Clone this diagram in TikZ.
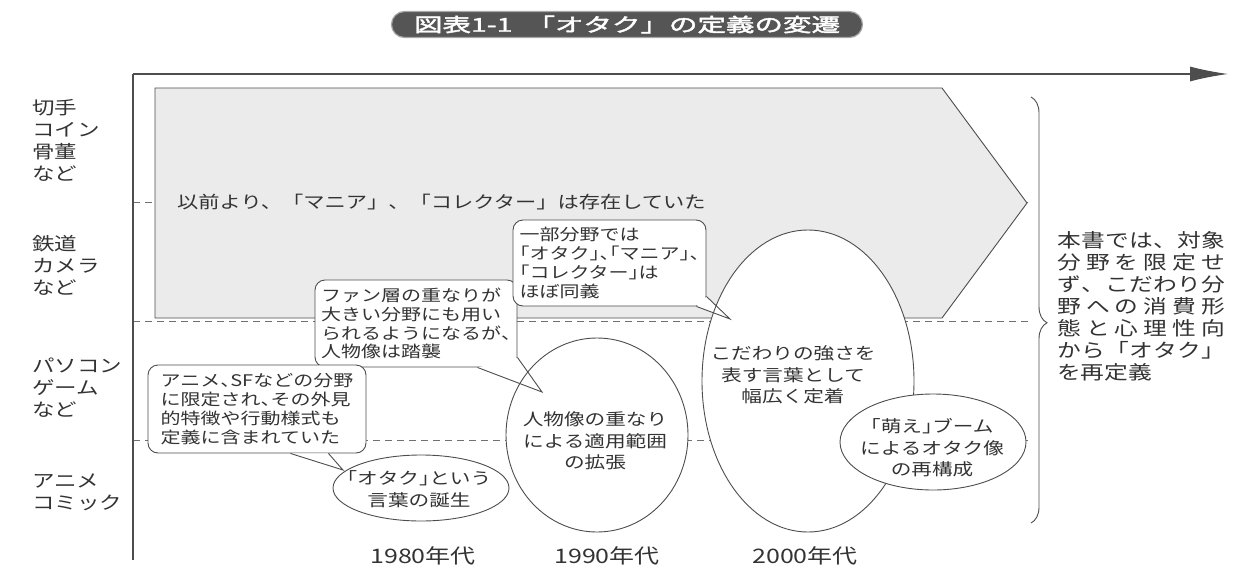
\documentclass[tikz,border=0pt]{standalone}
\usepackage{fontspec}
\setmainfont{Noto Sans CJK JP}[FakeStretch=1.25]
\newfontfamily\titlefont{Noto Sans CJK JP}[FakeStretch=1.5,FakeBold=2.2]
\newcommand\hw[1]{{\addfontfeature{RawFeature=+halt}#1}}
\newcommand\rl[1]{\hbox to 168pt{#1}}
\usetikzlibrary{arrows.meta,shapes.geometric,decorations.pathreplacing,calc}
\definecolor{ink}{HTML}{333333}
\definecolor{linec}{HTML}{4D4D4D}
\definecolor{pentfill}{HTML}{EBEBEB}
\definecolor{pillfill}{HTML}{555555}
\begin{document}
\begin{tikzpicture}[x=1pt,y=-1pt,
  every node/.style={text=ink, inner sep=0pt},
  lab/.style={align=left, anchor=west, font=\fontsize{18pt}{22pt}\selectfont},
  bubble/.style={draw=linec, fill=white, rounded corners=10pt, line width=0.9pt, align=left, font=\fontsize{16pt}{18.8pt}\selectfont},
  ell/.style={ellipse, draw=linec, fill=white, line width=0.9pt},
  etext/.style={align=center, font=\fontsize{16.5pt}{21.5pt}\selectfont},
  tail/.style={draw=linec, line width=0.9pt, line join=miter},
  gridline/.style={draw=linec!80, dash pattern=on 7pt off 5pt, line width=0.7pt},
  axisline/.style={draw=linec, line width=1.1pt},
  year/.style={font=\fontsize{20pt}{22pt}\selectfont}
]
\useasboundingbox (0,0) rectangle (1255,581);

% dashed guide lines
\coordinate (g1a) at (133,202); \coordinate (g1b) at (1030,202);
\coordinate (g2a) at (133,321); \coordinate (g2b) at (1030,321);
\coordinate (g3a) at (133,440); \coordinate (g3b) at (1030,440);
\draw[gridline] (g1a) -- (g1b);
\draw[gridline] (g2a) -- (g2b);
\draw[gridline] (g3a) -- (g3b);

% big arrow band
\draw[draw=linec, fill=pentfill, line width=0.9pt]
  (155,88) -- (942,88) -- (1027,203) -- (942,318) -- (155,318) -- cycle;
\node[anchor=west, font=\fontsize{17pt}{20pt}\selectfont] (past) at (177,202)
  {以前より、「マニア」、「コレクター」は存在していた};

% axes
\coordinate (O) at (133,74);
\coordinate (X) at (1228,74);
\coordinate (Y) at (133,560);
\draw[axisline, -{Latex[length=38pt,width=15pt]}] (O) -- (X);
\draw[axisline] (O) -- (Y);

% left labels
\node[lab] (l1) at (32,140) {切手\\コイン\\骨董\\など};
\node[lab] (l2) at (32,265) {鉄道\\カメラ\\など};
\node[lab] (l3) at (32,388) {パソコン\\ゲーム\\など};
\node[lab] (l4) at (32,492) {アニメ\\コミック};

% speech bubbles
\node[bubble, minimum width=202pt, minimum height=87pt] (b1) at (416,323.5)
  {ファン層の重なりが\\大きい分野にも用い\\られるようになるが\hw{、}\\人物像は踏襲};
\node[bubble, minimum width=193pt, minimum height=86pt] (b2) at (609.5,263)
  {一部分野では\\\hw{「}オタク\hw{」、「}マニア\hw{」、}\\\hw{「}コレクター\hw{」}は\\ほぼ同義};
\node[bubble, minimum width=218pt, minimum height=88pt] (b3) at (257,409)
  {アニメ\hw{、}SFなどの分野\\に限定され\hw{、}その外見\\的特徴や行動様式も\\定義に含まれていた};

% tail points
\coordinate (t1) at (542,392);
\coordinate (t1a) at ($(b1.south east)+(-40,0)$);
\coordinate (t1b) at ($(b1.south east)+(0,-10)$);
\coordinate (t2) at (730,319);
\coordinate (t2a) at ($(b2.south east)+(-10,0)$);
\coordinate (t2b) at ($(b2.south east)+(0,-10)$);
\coordinate (t3) at (343,470);
\coordinate (t3a) at ($(b3.south east)+(-76,0)$);
\coordinate (t3b) at ($(b3.south east)+(-38,0)$);
\fill[white] (t1a) -- (t1) -- (t1b) -- cycle;
\fill[white] (t2a) -- (t2) -- (t2b) -- cycle;
\fill[white] (t3a) -- (t3) -- (t3b) -- cycle;

% ellipses
\node[ell, minimum width=176pt, minimum height=66pt] (e1) at (421,488) {};
\node[ell, minimum width=182pt, minimum height=194pt] (e2) at (597,435) {};
\node[ell, minimum width=212pt, minimum height=302pt] (e3) at (808,381) {};
\node[ell, minimum width=186pt, minimum height=96pt] (e4) at (933,442) {};

% tail lines
\draw[tail] (t1a) -- (t1) -- (t1b);
\draw[tail] (t2a) -- (t2) -- (t2b);
\draw[tail] (t3a) -- (t3) -- (t3b);

% ellipse texts
\node[etext] (e1t) at (419,489) {\hw{「}オタク\hw{」}という\\言葉の誕生};
\node[etext] (e2t) at (595,441) {人物像の重なり\\による適用範囲\\の拡張};
\node[etext] (e3t) at (793,375) {こだわりの強さを\\表す言葉として\\幅広く定着};
\node[etext] (e4t) at (932,448) {\hw{「}萌え\hw{」}ブーム\\によるオタク像\\の再構成};

% decades
\node[year] (y80) at (423,556) {1980年代};
\node[year] (y90) at (607,556) {1990年代};
\node[year] (y00) at (805,556) {2000年代};

% brace
\coordinate (bt) at (1031,97);
\coordinate (bb) at (1031,523);
\draw[draw=linec, line width=0.9pt, decorate, decoration={brace, amplitude=16pt, aspect=0.53}] (bt) -- (bb);

% right-hand text
\node[anchor=west, align=left, font=\fontsize{19pt}{22pt}\selectfont] (def) at (1057,306)
  {\rl{本\hfil 書\hfil で\hfil は\hfil 、\hfil 対\hfil 象}\\
   \rl{分\hfil 野\hfil を\hfil 限\hfil 定\hfil せ}\\
   \rl{ず\hfil 、\hfil こ\hfil だ\hfil わ\hfil り\hfil 分}\\
   \rl{野\hfil へ\hfil の\hfil 消\hfil 費\hfil 形}\\
   \rl{態\hfil と\hfil 心\hfil 理\hfil 性\hfil 向}\\
   \rl{か\hfil ら\hfil 「\hfil オ\hfil タ\hfil ク\hfil 」}\\
   \rl{を再定義\hfil}};

% title
\node[fill=pillfill, draw=black!35, line width=1.2pt, rounded corners=13pt,
      minimum width=471pt, minimum height=26pt, text=white,
      font=\titlefont\fontsize{19pt}{21pt}\selectfont] (title) at (627,24.5)
  {図表1-1\hspace{14pt}「オタク」の定義の変遷};
\end{tikzpicture}
\end{document}
